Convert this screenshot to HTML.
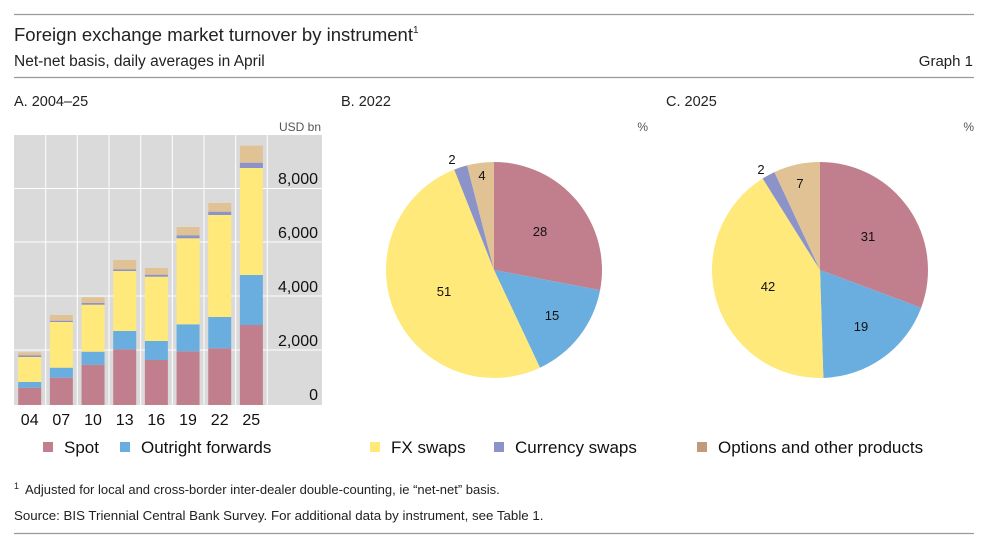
<!DOCTYPE html>
<html><head><meta charset="utf-8"><style>
body{margin:0;background:#fff;}
svg text{font-family:"Liberation Sans",sans-serif;}
</style></head><body>
<svg width="988" height="545" xmlns="http://www.w3.org/2000/svg">
<rect width="988" height="545" fill="#fff"/>
<line x1="14" y1="14.5" x2="974" y2="14.5" stroke="#9a9a9a" stroke-width="1.2"/>
<text x="14" y="41" font-size="18.5" fill="#222">Foreign exchange market turnover by instrument<tspan font-size="10" dy="-8">1</tspan></text>
<text x="14" y="66" font-size="15.5" fill="#222">Net-net basis, daily averages in April</text>
<text x="973" y="66" font-size="15" fill="#222" text-anchor="end">Graph 1</text>
<line x1="14" y1="77.5" x2="974" y2="77.5" stroke="#9a9a9a" stroke-width="1.2"/>
<text x="14" y="106" font-size="14.5" fill="#222">A. 2004–25</text>
<text x="341" y="106" font-size="14.5" fill="#222">B. 2022</text>
<text x="666" y="106" font-size="14.5" fill="#222">C. 2025</text>
<text x="321" y="131" font-size="12" fill="#555" text-anchor="end">USD bn</text>
<text x="648" y="131" font-size="12" fill="#555" text-anchor="end">%</text>
<text x="974" y="131" font-size="12" fill="#555" text-anchor="end">%</text>
<rect x="14" y="135" width="308" height="270" fill="#dadada"/>
<g stroke="#fff" stroke-width="1">
<line x1="14" y1="350" x2="322" y2="350"/><line x1="14" y1="296" x2="322" y2="296"/>
<line x1="14" y1="242" x2="322" y2="242"/><line x1="14" y1="188.5" x2="322" y2="188.5"/>
<line x1="45.7" y1="135" x2="45.7" y2="405"/><line x1="77.3" y1="135" x2="77.3" y2="405"/>
<line x1="109" y1="135" x2="109" y2="405"/><line x1="140.7" y1="135" x2="140.7" y2="405"/>
<line x1="172.3" y1="135" x2="172.3" y2="405"/><line x1="204" y1="135" x2="204" y2="405"/>
<line x1="235.7" y1="135" x2="235.7" y2="405"/><line x1="267.3" y1="135" x2="267.3" y2="405"/>
</g>
<g font-size="16" fill="#111" text-anchor="end">
<text x="318" y="184">8,000</text><text x="318" y="238">6,000</text>
<text x="318" y="292">4,000</text><text x="318" y="346">2,000</text><text x="318" y="400">0</text>
</g>
<g id="bars"></g>
<g font-size="16" fill="#111" text-anchor="middle">
<text x="29.7" y="425">04</text><text x="61.3" y="425">07</text><text x="93" y="425">10</text>
<text x="124.7" y="425">13</text><text x="156.3" y="425">16</text><text x="188" y="425">19</text>
<text x="219.7" y="425">22</text><text x="251.3" y="425">25</text>
</g>
<g id="pies"></g>
<g font-size="13" fill="#111" text-anchor="middle">
<text x="540" y="236">28</text><text x="552" y="320">15</text><text x="444" y="296">51</text>
<text x="452" y="164">2</text><text x="482" y="180">4</text>
<text x="868" y="241">31</text><text x="861" y="331">19</text><text x="768" y="291">42</text>
<text x="761" y="174">2</text><text x="800" y="188">7</text>
</g>
<g font-size="17" fill="#111">
<rect x="43" y="442" width="10" height="10" fill="#c17f8e"/><text x="64" y="453">Spot</text>
<rect x="120" y="442" width="10" height="10" fill="#6aaee0"/><text x="141" y="453">Outright forwards</text>
<rect x="370" y="442" width="10" height="10" fill="#ffe97a"/><text x="391" y="453">FX swaps</text>
<rect x="494" y="442" width="10" height="10" fill="#8b93c9"/><text x="515" y="453">Currency swaps</text>
<rect x="697" y="442" width="10" height="10" fill="#c09a7a"/><text x="718" y="453">Options and other products</text>
</g>
<text x="14" y="494" font-size="13" fill="#222"><tspan font-size="9" dy="-5">1</tspan><tspan dx="6" dy="5">Adjusted for local and cross-border inter-dealer double-counting, ie “net-net” basis.</tspan></text>
<text x="14" y="520" font-size="13.3" fill="#222">Source: BIS Triennial Central Bank Survey. For additional data by instrument, see Table 1.</text>
<line x1="14" y1="533.5" x2="974" y2="533.5" stroke="#9a9a9a" stroke-width="1.2"/>
</svg>
<script>
var ns="http://www.w3.org/2000/svg";
var cols=["#c17f8e","#6aaee0","#ffe97a","#8b93c9","#e0c294"];
var tops=[[387.7,382,357,355.3,352.3],[377.7,367.7,322,320.7,315],[364.7,351.7,304.7,303,297.3],[349.3,331,271,269.3,260],[360,341,276.7,274.7,268],[351.3,324.3,238.3,235.3,227],[348.3,317,215,211.7,203],[325,275,168,162.7,145.7]];
var g=document.getElementById("bars");
tops.forEach(function(t,i){var cx=29.7+i*31.67,prev=405;
t.forEach(function(y,j){var r=document.createElementNS(ns,"rect");
r.setAttribute("x",cx-11.5);r.setAttribute("width",23);r.setAttribute("y",y);r.setAttribute("height",prev-y);r.setAttribute("fill",cols[j]);g.appendChild(r);prev=y;});});
var pg=document.getElementById("pies");
function pie(cx,cy,r,vals){var s=vals.reduce(function(a,b){return a+b},0),a=0;
vals.forEach(function(v,j){var a2=a+v/s*2*Math.PI;
var x1=cx+r*Math.sin(a),y1=cy-r*Math.cos(a),x2=cx+r*Math.sin(a2),y2=cy-r*Math.cos(a2);
var p=document.createElementNS(ns,"path");
p.setAttribute("d","M"+cx+","+cy+"L"+x1+","+y1+"A"+r+","+r+" 0 "+((a2-a)>Math.PI?1:0)+" 1 "+x2+","+y2+"Z");
p.setAttribute("fill",cols[j]);pg.appendChild(p);a=a2;});}
pie(494,270,108,[28,15,51,2,4]);
pie(820,270,108,[31,19,42,2,7]);
</script>
</body></html>
